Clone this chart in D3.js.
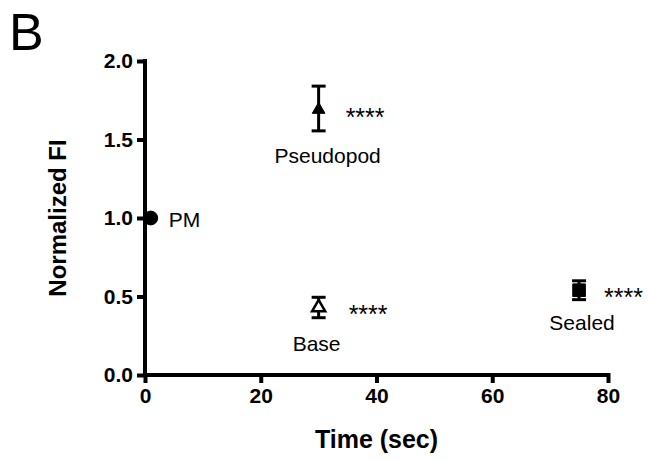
<!DOCTYPE html>
<html lang="en">
<head>
<meta charset="UTF-8">
<script src="https://d3js.org/d3.v7.min.js"></script>
<title>Normalized FI</title>
<style>
  html, body { margin: 0; padding: 0; background: #fff; }
  svg { display: block; }
  text { font-family: 'Liberation Sans', Arial, sans-serif; fill: #000; }
  .tick text { font-weight: bold; font-size: 21px; }
  .axis-title { font-weight: bold; }
</style>
</head>
<body>
<svg id="canvas"></svg>
<script>
// data
let groups = ['PM', 'Pseudopod', 'Base', 'Sealed']
let times = [1, 30, 30, 75]
let means = [1.0, 1.69, 0.43, 0.54]
let upper = [1.0, 1.84, 0.495, 0.60]
let lower = [1.0, 1.555, 0.365, 0.48]
let stars = ['', '****', '****', '****']
let xTicks = [0, 20, 40, 60, 80]
let yTicks = [0, 0.5, 1.0, 1.5, 2.0]

let width = 649
let height = 461

let svg = d3.select('#canvas').attr('width', width).attr('height', height)

let xScale = d3.scaleLinear().domain([0, 80]).range([145, 608])
let yScale = d3.scaleLinear().domain([0, 2]).range([375, 61])

// panel letter
svg.append('text')
    .attr('x', 9)
    .attr('y', 50)
    .style('font-size', '52px')
    .text('B')

// axes
let xAxis = d3.axisBottom(xScale).tickValues(xTicks).tickSize(8).tickPadding(5).tickFormat(d3.format('d'))
let yAxis = d3.axisLeft(yScale).tickValues(yTicks).tickSize(8).tickPadding(4).tickFormat(d3.format('.1f'))

let gx = svg.append('g')
    .attr('transform', 'translate(0,' + yScale(0) + ')')
    .call(xAxis)
let gy = svg.append('g')
    .attr('transform', 'translate(' + xScale(0) + ',0)')
    .call(yAxis)

for (let g of [gx, gy]) {
    g.select('.domain').attr('stroke', '#000').attr('stroke-width', 4)
    g.selectAll('.tick line').attr('stroke', '#000').attr('stroke-width', 4)
    g.selectAll('.tick text').attr('fill', '#000')
}
// square off the domain ends (no outer ticks)
gx.select('.domain').attr('d', 'M' + (xScale(0) - 2) + ',0H' + (xScale(80) + 2))
gy.select('.domain').attr('d', 'M0,' + (yScale(2) - 2) + 'V' + (yScale(0) + 2))
gx.select('.tick:last-of-type line').attr('y1', -2)

svg.append('text')
    .attr('class', 'axis-title')
    .attr('x', (xScale(0) + xScale(80)) / 2)
    .attr('y', 448)
    .attr('text-anchor', 'middle')
    .style('font-size', '25px')
    .text('Time (sec)')

svg.append('text')
    .attr('class', 'axis-title')
    .attr('transform', 'translate(66,' + yScale(1) + ') rotate(-90)')
    .attr('text-anchor', 'middle')
    .style('font-size', '24px')
    .text('Normalized FI')

// error bars
let capW = 7
groups.forEach((g, i) => {
    if (upper[i] === lower[i]) return
    let x = xScale(times[i])
    svg.append('line')
        .attr('x1', x).attr('x2', x)
        .attr('y1', yScale(upper[i])).attr('y2', yScale(lower[i]))
        .attr('stroke', '#000').attr('stroke-width', 3)
    for (let v of [upper[i], lower[i]]) {
        svg.append('line')
            .attr('x1', x - capW).attr('x2', x + capW)
            .attr('y1', yScale(v)).attr('y2', yScale(v))
            .attr('stroke', '#000').attr('stroke-width', 3)
    }
})

// markers
let markers = [
    { type: d3.symbolCircle, size: 150, fill: '#000' },
    { type: d3.symbolTriangle, size: 70, fill: '#000' },
    { type: d3.symbolTriangle, size: 75, fill: '#fff' },
    { type: d3.symbolSquare, size: 160, fill: '#000' }
]
groups.forEach((g, i) => {
    let m = markers[i]
    svg.append('path')
        .attr('d', d3.symbol().type(m.type).size(m.size)())
        .attr('transform', 'translate(' + xScale(times[i]) + ',' + yScale(means[i]) + ')')
        .attr('fill', m.fill)
        .attr('stroke', '#000')
        .attr('stroke-width', m.fill === '#fff' ? 2.5 : 1)
})

// labels and significance stars
let labelOff = [[18, 9, 'start'], [9, 53, 'middle'], [-2, 44, 'middle'], [3, 40, 'middle']]
let starOff = [[0, 0], [27, 16], [30, 16], [25, 16]]
groups.forEach((g, i) => {
    let x = xScale(times[i])
    let y = yScale(means[i])
    svg.append('text')
        .attr('x', x + labelOff[i][0])
        .attr('y', y + labelOff[i][1])
        .attr('text-anchor', labelOff[i][2])
        .style('font-size', '21px')
        .text(g)
    if (stars[i]) {
        svg.append('text')
            .attr('x', x + starOff[i][0])
            .attr('y', y + starOff[i][1])
            .style('font-size', '25px')
            .text(stars[i])
    }
})
</script>
</body>
</html>
